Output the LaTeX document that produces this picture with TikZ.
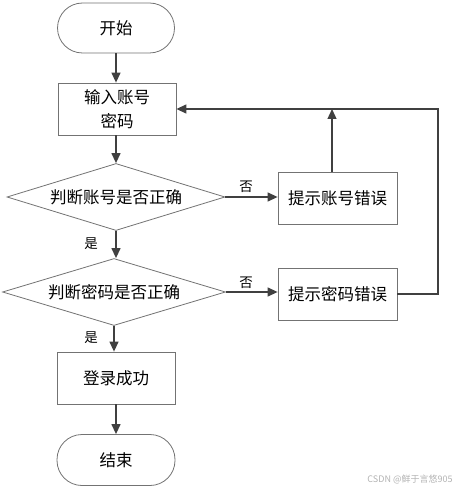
\documentclass[tikz,border=0pt]{standalone}
\usepackage{fontspec}
\setmainfont{Noto Sans CJK SC}
\usetikzlibrary{shapes.geometric,arrows.meta}
\begin{document}
\begin{tikzpicture}[x=1pt,y=-1pt,
  box/.style={draw=black!55,line width=0.8pt,fill=white,inner sep=0pt,font=\fontsize{16.5}{24}\selectfont,align=center},
  termbox/.style={box,rounded corners=25pt,minimum width=117pt,minimum height=50pt},
  procbox/.style={box,minimum width=118pt,minimum height=52pt},
  decbox/.style={box,shape=diamond,aspect=3.2,minimum width=218pt,minimum height=67pt},
  arr/.style={draw=black!75,line width=1.3pt,-{Triangle[length=10pt,width=9pt]}},
  lbl/.style={font=\fontsize{13.5}{14}\selectfont,inner sep=0pt}
]
\useasboundingbox (0,0) rectangle (462,489);
\node[termbox] (start) at (116,28) {开始};
\node[procbox] (input) at (117,109) {输入账号\\密码};
\node[decbox] (d1) at (116,197) {判断账号是否正确};
\node[procbox,minimum width=119pt] (err1) at (337.5,198) {提示账号错误};
\node[decbox,minimum width=223pt] (d2) at (114,292) {判断密码是否正确};
\node[procbox,minimum width=119pt] (err2) at (337.5,294) {提示密码错误};
\node[procbox] (ok) at (116,378) {登录成功};
\node[termbox,minimum width=118pt,minimum height=51pt] (end) at (116,460) {结束};
\coordinate (c) at (438,109);
\draw[arr] (start.south) -- (start.south |- input.north);
\draw[arr] (input.south -| start.south) -- (start.south |- d1.north);
\draw[arr] (d1.south) -- (d1.south |- d2.north);
\draw[arr] (d2.south) -- (d2.south |- ok.north);
\draw[arr] (ok.south) -- (ok.south |- end.north);
\draw[arr] (d1.east) -- (d1.east -| err1.west);
\draw[arr] (d2.east) -- (d2.east -| err2.west);
\draw[arr] ([xshift=-5.5pt]err1.north) -- ([xshift=-5.5pt]err1.north |- c);
\draw[arr] (err2.east) -| (c) -- (input.east);
\node[lbl] (n1) at (246,187) {否};
\node[lbl] (n2) at (246,283) {否};
\node[lbl] (y1) at (91,244) {是};
\node[lbl] (y2) at (91,338) {是};
\node[font=\fontsize{9}{10}\selectfont,text=black!30,inner sep=0pt] (wm) at (410,479) {CSDN @鲜于言悠905};
\end{tikzpicture}
\end{document}
